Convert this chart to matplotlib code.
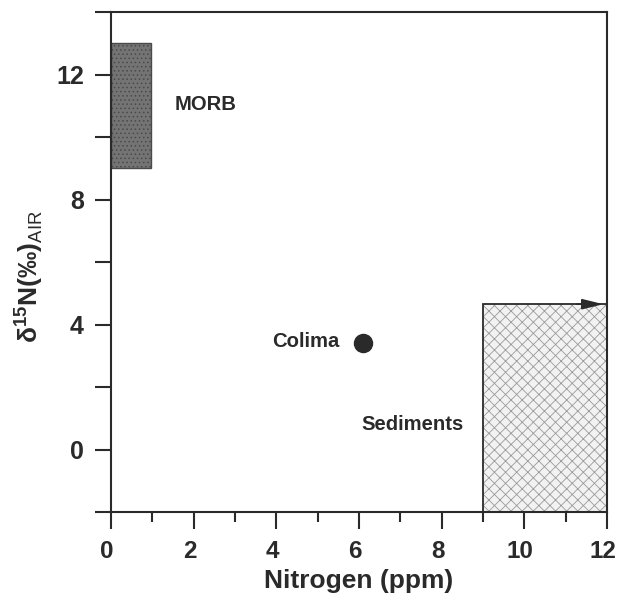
import numpy as np
import matplotlib.pyplot as plt
import matplotlib.transforms as mtransforms
from matplotlib.patches import Rectangle

# field boxes: (x0, x1, y0, y1)
morb_box = (0.0, 0.97, 9.0, 13.0)
sed_box = (9.0, 12.0, -2.0, 4.65)

# Colima sample
colima_n = [6.1]
colima_d15n = [3.4]

xticks_major = [0, 2, 4, 6, 8, 10, 12]
xticks_minor = [1, 3, 5, 7, 9, 11]
yticks_major = [0, 4, 8, 12]
yticks_minor = [-2, 2, 6, 10, 14]

labels = {"MORB": (1.55, 11.05), "Colima": (3.9, 3.45), "Sediments": (6.05, 0.8)}

ink = "#2a2a2a"
plt.rcParams['font.family'] = ['Liberation Sans', 'DejaVu Sans']
plt.rcParams['mathtext.fontset'] = 'custom'
plt.rcParams['mathtext.rm'] = 'Liberation Sans'
plt.rcParams['mathtext.bf'] = 'Liberation Sans:bold'
plt.rcParams['hatch.linewidth'] = 0.6

fig = plt.figure(figsize=(6.18, 6.06), dpi=100)
ax = fig.add_axes([111/618, 94/606, 496/618, 500/606])
ax.set_xlim(0, 12)
ax.set_ylim(-2, 14)

# MORB box - dark stipple
x0, x1, y0, y1 = morb_box
ax.add_patch(Rectangle((x0, y0), x1 - x0, y1 - y0, facecolor="#747474",
                       edgecolor="#4a4a4a", hatch="....", lw=1.0, zorder=2))

# sediments box - light diamond-plate
x0, x1, y0, y1 = sed_box
ax.add_patch(Rectangle((x0, y0), x1 - x0, y1 - y0, facecolor="#f2f2f2",
                       edgecolor="#9a9a9a", hatch="xxx", lw=0, zorder=2))
ax.add_patch(Rectangle((x0, y0), x1 - x0, y1 - y0, facecolor="none",
                       edgecolor=ink, lw=1.3, zorder=3))
ax.annotate("", xy=(x1 - 0.02, y1), xytext=(x1 - 0.8, y1),
            arrowprops=dict(arrowstyle="-|>,head_length=1.3,head_width=0.32",
                            color=ink, lw=1.2), zorder=4)

ax.plot(colima_n, colima_d15n, "o", color="#2a2a2a", ms=13, zorder=4)

for name, (x, y) in labels.items():
    ax.text(x, y, name, fontsize=14.6, fontweight="bold", color=ink,
            ha="left", va="center")

for s in ax.spines.values():
    s.set_linewidth(1.5)
    s.set_color(ink)

ax.set_xticks(xticks_major)
ax.set_xticks(xticks_minor, minor=True)
ax.set_yticks(yticks_major)
ax.set_yticks(yticks_minor, minor=True)
ax.tick_params(axis="x", which="major", direction="out", length=12.5, width=1.5,
               color=ink, labelsize=17.5, pad=8, labelcolor=ink)
ax.tick_params(axis="x", which="minor", direction="out", length=7, width=1.5, color=ink)
ax.tick_params(axis="y", which="both", direction="out", length=11.5, width=1.5,
               color=ink, labelsize=18, pad=8, labelcolor=ink)
# x tick labels sit a touch left of their ticks in the original
shift = mtransforms.ScaledTranslation(-4/100, 0, fig.dpi_scale_trans)
for lab in ax.get_xticklabels():
    lab.set_fontweight("bold")
    lab.set_transform(lab.get_transform() + shift)
for lab in ax.get_yticklabels():
    lab.set_fontweight("bold")

ax.set_xlabel("Nitrogen (ppm)", fontsize=19, fontweight="bold", color=ink, labelpad=4)
ax.set_ylabel("δ$^{\\mathbf{15}}$N(‰)$_{\\rm AIR}$", fontsize=19, fontweight="bold",
              color=ink)
ax.yaxis.set_label_coords(-0.133, 0.47)

fig.savefig("out.png", dpi=100)
